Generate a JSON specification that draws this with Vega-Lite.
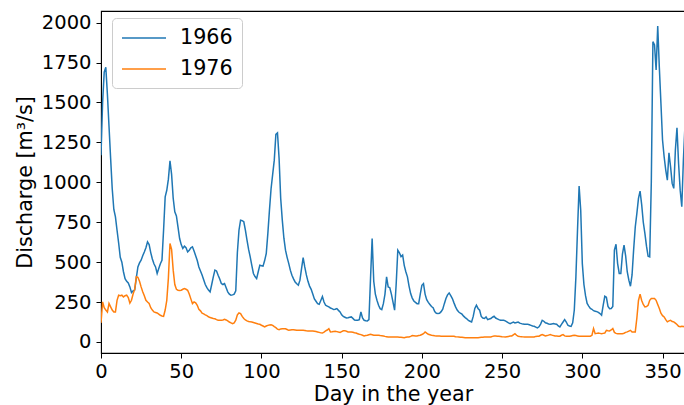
{
  "$schema": "https://vega.github.io/schema/vega-lite/v6.json",
  "width": 584,
  "height": 342,
  "autosize": {"type": "none"},
  "padding": {"left": 101, "top": 11, "right": 0, "bottom": 52},
  "background": "white",
  "config": {
    "font": "DejaVu Sans",
    "view": {"stroke": "#000000", "strokeWidth": 1.1}
  },
  "data": {
    "values": [
      {"day":0,"1966":1170,"1976":120},{"day":1,"1966":1500,"1976":251},{"day":2,"1966":1690,"1976":215},{"day":3,"1966":1720,"1976":200},{"day":4,"1966":1550,"1976":188},
      {"day":5,"1966":1350,"1976":241},{"day":6,"1966":1150,"1976":220},{"day":7,"1966":960,"1976":200},{"day":8,"1966":830,"1976":188},{"day":9,"1966":784,"1976":188},
      {"day":10,"1966":700,"1976":261},{"day":11,"1966":620,"1976":293},{"day":12,"1966":530,"1976":290},{"day":13,"1966":500,"1976":293},{"day":14,"1966":440,"1976":282},
      {"day":15,"1966":397,"1976":290},{"day":16,"1966":380,"1976":293},{"day":17,"1966":370,"1976":278},{"day":18,"1966":345,"1976":244},{"day":19,"1966":310,"1976":261},
      {"day":20,"1966":320,"1976":300},{"day":21,"1966":325,"1976":330},{"day":22,"1966":400,"1976":408},{"day":23,"1966":470,"1976":405},{"day":24,"1966":495,"1976":380},
      {"day":25,"1966":512,"1976":345},{"day":26,"1966":540,"1976":315},{"day":27,"1966":564,"1976":290},{"day":28,"1966":590,"1976":261},{"day":29,"1966":627,"1976":250},
      {"day":30,"1966":610,"1976":241},{"day":31,"1966":560,"1976":215},{"day":32,"1966":520,"1976":200},{"day":33,"1966":490,"1976":188},{"day":34,"1966":470,"1976":185},
      {"day":35,"1966":429,"1976":182},{"day":36,"1966":460,"1976":175},{"day":37,"1966":490,"1976":167},{"day":38,"1966":512,"1976":163},{"day":39,"1966":700,"1976":161},
      {"day":40,"1966":909,"1976":200},{"day":41,"1966":950,"1976":261},{"day":42,"1966":1020,"1976":400},{"day":43,"1966":1135,"1976":617},{"day":44,"1966":1050,"1976":580},
      {"day":45,"1966":900,"1976":450},{"day":46,"1966":815,"1976":360},{"day":47,"1966":790,"1976":330},{"day":48,"1966":720,"1976":324},{"day":49,"1966":648,"1976":322},
      {"day":50,"1966":610,"1976":324},{"day":51,"1966":586,"1976":330},{"day":52,"1966":600,"1976":334},{"day":53,"1966":590,"1976":330},{"day":54,"1966":564,"1976":324},
      {"day":55,"1966":575,"1976":300},{"day":56,"1966":590,"1976":270},{"day":57,"1966":596,"1976":241},{"day":58,"1966":570,"1976":251},{"day":59,"1966":540,"1976":245},
      {"day":60,"1966":510,"1976":230},{"day":61,"1966":470,"1976":205},{"day":62,"1966":445,"1976":195},{"day":63,"1966":420,"1976":180},{"day":64,"1966":390,"1976":176},
      {"day":65,"1966":360,"1976":170},{"day":66,"1966":340,"1976":165},{"day":67,"1966":325,"1976":158},{"day":68,"1966":314,"1976":153},{"day":69,"1966":360,"1976":150},
      {"day":70,"1966":408,"1976":147},{"day":71,"1966":450,"1976":145},{"day":72,"1966":445,"1976":140},{"day":73,"1966":418,"1976":136},{"day":74,"1966":395,"1976":136},
      {"day":75,"1966":366,"1976":136},{"day":76,"1966":360,"1976":138},{"day":77,"1966":366,"1976":142},{"day":78,"1966":340,"1976":138},{"day":79,"1966":314,"1976":132},
      {"day":80,"1966":300,"1976":125},{"day":81,"1966":293,"1976":120},{"day":82,"1966":295,"1976":115},{"day":83,"1966":300,"1976":120},{"day":84,"1966":320,"1976":136},
      {"day":85,"1966":560,"1976":170},{"day":86,"1966":700,"1976":182},{"day":87,"1966":763,"1976":178},{"day":88,"1966":760,"1976":160},{"day":89,"1966":753,"1976":147},
      {"day":90,"1966":700,"1976":138},{"day":91,"1966":638,"1976":132},{"day":92,"1966":580,"1976":128},{"day":93,"1966":533,"1976":126},{"day":94,"1966":480,"1976":125},
      {"day":95,"1966":429,"1976":122},{"day":96,"1966":410,"1976":119},{"day":97,"1966":397,"1976":116},{"day":98,"1966":440,"1976":113},{"day":99,"1966":481,"1976":111},
      {"day":100,"1966":478,"1976":105},{"day":101,"1966":475,"1976":100},{"day":102,"1966":510,"1976":94},{"day":103,"1966":554,"1976":100},{"day":104,"1966":680,"1976":104},
      {"day":105,"1966":826,"1976":106},{"day":106,"1966":960,"1976":108},{"day":107,"1966":1050,"1976":104},{"day":108,"1966":1139,"1976":96},{"day":109,"1966":1300,"1976":90},
      {"day":110,"1966":1310,"1976":80},{"day":111,"1966":1150,"1976":77},{"day":112,"1966":900,"1976":82},{"day":113,"1966":763,"1976":83},{"day":114,"1966":650,"1976":83},
      {"day":115,"1966":575,"1976":83},{"day":116,"1966":530,"1976":78},{"day":117,"1966":492,"1976":73},{"day":118,"1966":450,"1976":75},{"day":119,"1966":418,"1976":77},
      {"day":120,"1966":395,"1976":77},{"day":121,"1966":376,"1976":75},{"day":122,"1966":365,"1976":73},{"day":123,"1966":356,"1976":73},{"day":124,"1966":387,"1976":73},
      {"day":125,"1966":460,"1976":73},{"day":126,"1966":529,"1976":73},{"day":127,"1966":470,"1976":72},{"day":128,"1966":420,"1976":70},{"day":129,"1966":380,"1976":69},
      {"day":130,"1966":350,"1976":69},{"day":131,"1966":330,"1976":69},{"day":132,"1966":300,"1976":69},{"day":133,"1966":270,"1976":67},{"day":134,"1966":255,"1976":65},
      {"day":135,"1966":240,"1976":63},{"day":136,"1966":236,"1976":60},{"day":137,"1966":260,"1976":57},{"day":138,"1966":285,"1976":56},{"day":139,"1966":250,"1976":62},
      {"day":140,"1966":230,"1976":69},{"day":141,"1966":225,"1976":75},{"day":142,"1966":220,"1976":83},{"day":143,"1966":213,"1976":63},{"day":144,"1966":209,"1976":64},
      {"day":145,"1966":203,"1976":66},{"day":146,"1966":205,"1976":67},{"day":147,"1966":209,"1976":65},{"day":148,"1966":198,"1976":62},{"day":149,"1966":188,"1976":60},
      {"day":150,"1966":170,"1976":65},{"day":151,"1966":160,"1976":70},{"day":152,"1966":155,"1976":71},{"day":153,"1966":150,"1976":67},{"day":154,"1966":152,"1976":63},
      {"day":155,"1966":155,"1976":63},{"day":156,"1966":157,"1976":63},{"day":157,"1966":148,"1976":61},{"day":158,"1966":138,"1976":58},{"day":159,"1966":136,"1976":56},
      {"day":160,"1966":136,"1976":52},{"day":161,"1966":140,"1976":48},{"day":162,"1966":188,"1976":46},{"day":163,"1966":150,"1976":42},{"day":164,"1966":136,"1976":38},
      {"day":165,"1966":133,"1976":40},{"day":166,"1966":132,"1976":42},{"day":167,"1966":140,"1976":45},{"day":168,"1966":400,"1976":48},{"day":169,"1966":648,"1976":45},
      {"day":170,"1966":380,"1976":42},{"day":171,"1966":300,"1976":42},{"day":172,"1966":261,"1976":42},{"day":173,"1966":230,"1976":42},{"day":174,"1966":209,"1976":40},
      {"day":175,"1966":203,"1976":39},{"day":176,"1966":240,"1976":38},{"day":177,"1966":300,"1976":35},{"day":178,"1966":408,"1976":33},{"day":179,"1966":345,"1976":31},
      {"day":180,"1966":340,"1976":31},{"day":181,"1966":300,"1976":31},{"day":182,"1966":250,"1976":31},{"day":183,"1966":199,"1976":31},{"day":184,"1966":366,"1976":31},
      {"day":185,"1966":575,"1976":31},{"day":186,"1966":559,"1976":30},{"day":187,"1966":535,"1976":29},{"day":188,"1966":545,"1976":28},{"day":189,"1966":480,"1976":27},
      {"day":190,"1966":440,"1976":29},{"day":191,"1966":408,"1976":31},{"day":192,"1966":350,"1976":31},{"day":193,"1966":303,"1976":35},{"day":194,"1966":275,"1976":40},
      {"day":195,"1966":257,"1976":39},{"day":196,"1966":248,"1976":38},{"day":197,"1966":240,"1976":38},{"day":198,"1966":240,"1976":40},{"day":199,"1966":300,"1976":42},
      {"day":200,"1966":355,"1976":47},{"day":201,"1966":366,"1976":52},{"day":202,"1966":300,"1976":63},{"day":203,"1966":265,"1976":55},{"day":204,"1966":248,"1976":48},
      {"day":205,"1966":235,"1976":45},{"day":206,"1966":222,"1976":42},{"day":207,"1966":215,"1976":41},{"day":208,"1966":190,"1976":39},{"day":209,"1966":180,"1976":38},
      {"day":210,"1966":178,"1976":37},{"day":211,"1966":180,"1976":37},{"day":212,"1966":190,"1976":36},{"day":213,"1966":205,"1976":36},{"day":214,"1966":240,"1976":36},
      {"day":215,"1966":272,"1976":36},{"day":216,"1966":295,"1976":36},{"day":217,"1966":307,"1976":36},{"day":218,"1966":290,"1976":36},{"day":219,"1966":272,"1976":36},
      {"day":220,"1966":245,"1976":36},{"day":221,"1966":220,"1976":33},{"day":222,"1966":200,"1976":32},{"day":223,"1966":188,"1976":31},{"day":224,"1966":180,"1976":30},
      {"day":225,"1966":174,"1976":29},{"day":226,"1966":162,"1976":28},{"day":227,"1966":153,"1976":27},{"day":228,"1966":145,"1976":27},{"day":229,"1966":135,"1976":27},
      {"day":230,"1966":130,"1976":27},{"day":231,"1966":125,"1976":27},{"day":232,"1966":160,"1976":27},{"day":233,"1966":210,"1976":27},{"day":234,"1966":230,"1976":27},
      {"day":235,"1966":210,"1976":27},{"day":236,"1966":199,"1976":28},{"day":237,"1966":160,"1976":29},{"day":238,"1966":150,"1976":30},{"day":239,"1966":147,"1976":31},
      {"day":240,"1966":157,"1976":31},{"day":241,"1966":140,"1976":31},{"day":242,"1966":144,"1976":31},{"day":243,"1966":147,"1976":31},{"day":244,"1966":155,"1976":35},
      {"day":245,"1966":161,"1976":38},{"day":246,"1966":150,"1976":37},{"day":247,"1966":145,"1976":36},{"day":248,"1966":140,"1976":36},{"day":249,"1966":136,"1976":35},
      {"day":250,"1966":136,"1976":33},{"day":251,"1966":136,"1976":32},{"day":252,"1966":132,"1976":31},{"day":253,"1966":126,"1976":33},{"day":254,"1966":120,"1976":35},
      {"day":255,"1966":115,"1976":37},{"day":256,"1966":120,"1976":38},{"day":257,"1966":125,"1976":45},{"day":258,"1966":119,"1976":52},{"day":259,"1966":122,"1976":42},
      {"day":260,"1966":125,"1976":36},{"day":261,"1966":118,"1976":34},{"day":262,"1966":115,"1976":33},{"day":263,"1966":112,"1976":32},{"day":264,"1966":111,"1976":31},
      {"day":265,"1966":111,"1976":31},{"day":266,"1966":111,"1976":31},{"day":267,"1966":108,"1976":31},{"day":268,"1966":104,"1976":31},{"day":269,"1966":100,"1976":31},
      {"day":270,"1966":98,"1976":31},{"day":271,"1966":93,"1976":35},{"day":272,"1966":88,"1976":36},{"day":273,"1966":95,"1976":36},{"day":274,"1966":112,"1976":42},
      {"day":275,"1966":136,"1976":46},{"day":276,"1966":130,"1976":42},{"day":277,"1966":120,"1976":38},{"day":278,"1966":117,"1976":40},{"day":279,"1966":113,"1976":43},
      {"day":280,"1966":111,"1976":46},{"day":281,"1966":113,"1976":43},{"day":282,"1966":115,"1976":40},{"day":283,"1966":113,"1976":38},{"day":284,"1966":111,"1976":37},
      {"day":285,"1966":100,"1976":36},{"day":286,"1966":94,"1976":36},{"day":287,"1966":110,"1976":42},{"day":288,"1966":125,"1976":46},{"day":289,"1966":140,"1976":38},
      {"day":290,"1966":125,"1976":36},{"day":291,"1966":105,"1976":36},{"day":292,"1966":100,"1976":36},{"day":293,"1966":98,"1976":38},{"day":294,"1966":120,"1976":40},
      {"day":295,"1966":200,"1976":42},{"day":296,"1966":408,"1976":40},{"day":297,"1966":700,"1976":38},{"day":298,"1966":976,"1976":36},{"day":299,"1966":826,"1976":36},
      {"day":300,"1966":491,"1976":36},{"day":301,"1966":360,"1976":36},{"day":302,"1966":290,"1976":36},{"day":303,"1966":241,"1976":36},{"day":304,"1966":225,"1976":36},
      {"day":305,"1966":210,"1976":36},{"day":306,"1966":205,"1976":42},{"day":307,"1966":196,"1976":84},{"day":308,"1966":193,"1976":52},{"day":309,"1966":190,"1976":54},
      {"day":310,"1966":185,"1976":56},{"day":311,"1966":178,"1976":54},{"day":312,"1966":168,"1976":52},{"day":313,"1966":230,"1976":54},{"day":314,"1966":286,"1976":56},
      {"day":315,"1966":280,"1976":73},{"day":316,"1966":223,"1976":70},{"day":317,"1966":208,"1976":69},{"day":318,"1966":210,"1976":75},{"day":319,"1966":223,"1976":84},
      {"day":320,"1966":575,"1976":60},{"day":321,"1966":612,"1976":54},{"day":322,"1966":491,"1976":52},{"day":323,"1966":429,"1976":52},{"day":324,"1966":429,"1976":52},
      {"day":325,"1966":550,"1976":52},{"day":326,"1966":606,"1976":55},{"day":327,"1966":540,"1976":60},{"day":328,"1966":440,"1976":63},{"day":329,"1966":387,"1976":68},
      {"day":330,"1966":349,"1976":73},{"day":331,"1966":420,"1976":63},{"day":332,"1966":580,"1976":63},{"day":333,"1966":720,"1976":63},{"day":334,"1966":805,"1976":150},
      {"day":335,"1966":899,"1976":260},{"day":336,"1966":945,"1976":300},{"day":337,"1966":860,"1976":260},{"day":338,"1966":750,"1976":235},{"day":339,"1966":680,"1976":220},
      {"day":340,"1966":600,"1976":222},{"day":341,"1966":537,"1976":230},{"day":342,"1966":533,"1976":261},{"day":343,"1966":1000,"1976":272},{"day":344,"1966":1881,"1976":272},
      {"day":345,"1966":1860,"1976":272},{"day":346,"1966":1703,"1976":261},{"day":347,"1966":1979,"1976":235},{"day":348,"1966":1720,"1976":210},{"day":349,"1966":1495,"1976":180},
      {"day":350,"1966":1265,"1976":165},{"day":351,"1966":1160,"1976":157},{"day":352,"1966":1077,"1976":140},{"day":353,"1966":1014,"1976":126},{"day":354,"1966":1185,"1976":132},
      {"day":355,"1966":1098,"1976":136},{"day":356,"1966":993,"1976":128},{"day":357,"1966":962,"1976":126},{"day":358,"1966":1202,"1976":118},{"day":359,"1966":1342,"1976":110},
      {"day":360,"1966":1118,"1976":98},{"day":361,"1966":951,"1976":95},{"day":362,"1966":847,"1976":98},{"day":363,"1966":1140,"1976":97},{"day":364,"1966":1359,"1976":95}
    ]
  },
  "transform": [
    {"fold": ["1966", "1976"], "as": ["year", "discharge"]}
  ],
  "mark": {"type": "line", "strokeWidth": 1.5, "clip": true},
  "encoding": {
    "x": {
      "field": "day",
      "type": "quantitative",
      "scale": {"domain": [0, 364], "nice": false, "zero": false},
      "axis": {
        "title": "Day in the year",
        "values": [0, 50, 100, 150, 200, 250, 300, 350],
        "format": "d",
        "labelFlush": false,
        "grid": false,
        "tickSize": 5,
        "tickColor": "#000000",
        "domainColor": "#000000",
        "labelColor": "#000000",
        "titleColor": "#000000",
        "labelFontSize": 19.5,
        "labelPadding": 4,
        "titleFontSize": 20.7,
        "titleFontWeight": "normal",
        "titlePadding": 4
      }
    },
    "y": {
      "field": "discharge",
      "type": "quantitative",
      "scale": {"domain": [-69, 2073], "nice": false, "zero": false},
      "axis": {
        "title": "Discharge [m³/s]",
        "values": [0, 250, 500, 750, 1000, 1250, 1500, 1750, 2000],
        "format": "d",
        "labelFlush": false,
        "grid": false,
        "tickSize": 5,
        "tickColor": "#000000",
        "domainColor": "#000000",
        "labelColor": "#000000",
        "titleColor": "#000000",
        "labelFontSize": 19.5,
        "labelPadding": 5,
        "titleFontSize": 20.7,
        "titleFontWeight": "normal",
        "titlePadding": 6
      }
    },
    "color": {
      "field": "year",
      "type": "nominal",
      "scale": {"domain": ["1966", "1976"], "range": ["#1f77b4", "#ff7f0e"]},
      "legend": {
        "title": null,
        "orient": "none",
        "legendX": 11,
        "legendY": 7,
        "padding": 9,
        "fillColor": "rgba(255,255,255,0.8)",
        "strokeColor": "#cccccc",
        "cornerRadius": 4,
        "symbolType": "M-1,0H3.4",
        "symbolSize": 400,
        "symbolStrokeWidth": 1.5,
        "labelFontSize": 20.7,
        "labelColor": "#000000",
        "labelOffset": 37,
        "rowPadding": 10
      }
    }
  }
}
